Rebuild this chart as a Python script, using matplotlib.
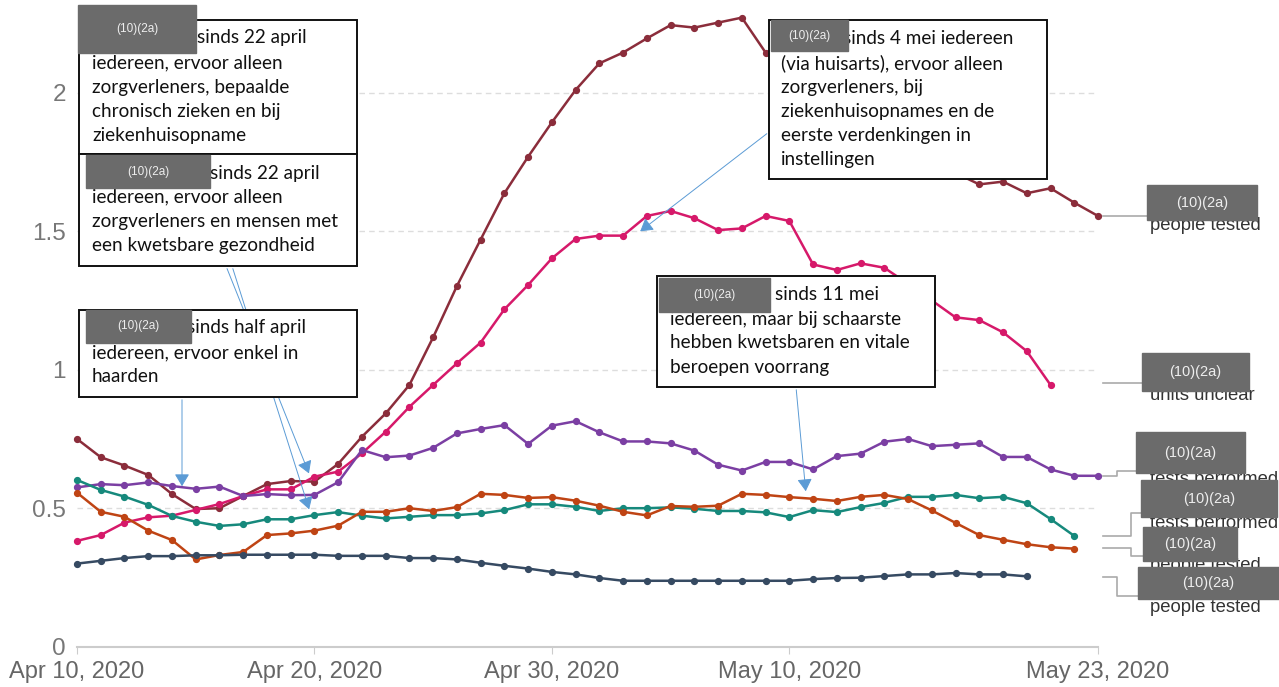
import numpy as np
import pandas as pd
import matplotlib
matplotlib.use("Agg")
import matplotlib.pyplot as plt
from matplotlib.patches import Rectangle, FancyArrowPatch

# daily values, Apr 10 .. May 23 2020
dates = pd.date_range("2020-04-10", "2020-05-23", freq="D")
nan = np.nan

maroon = [0.75, 0.684, 0.654, 0.62, 0.551, 0.497, 0.50, 0.544, 0.587, 0.598, 0.596,
          0.66, 0.758, 0.842, 0.945, 1.117, 1.302, 1.47, 1.637, 1.769, 1.893,
          2.01, 2.106, 2.145, 2.196, 2.244, 2.235, 2.253, 2.271, 2.145, 2.12,
          2.06, 2.0, 1.94, 1.88, 1.82, 1.77, 1.71, 1.669, 1.679, 1.637,
          1.655, 1.603, 1.555]
magenta = [0.382, 0.403, 0.448, 0.467, 0.473, 0.494, 0.515, 0.544, 0.568, 0.568, 0.614,
           0.632, 0.698, 0.776, 0.866, 0.945, 1.023, 1.098, 1.218, 1.306, 1.402,
           1.472, 1.484, 1.484, 1.555, 1.573, 1.547, 1.504, 1.51, 1.555, 1.537,
           1.38, 1.36, 1.384, 1.368, 1.31, 1.25, 1.189, 1.179, 1.135, 1.067,
           0.945, nan, nan]
purple = [0.575, 0.587, 0.583, 0.593, 0.58, 0.57, 0.578, 0.544, 0.551, 0.547, 0.548,
          0.594, 0.71, 0.684, 0.69, 0.718, 0.77, 0.786, 0.8, 0.732, 0.798,
          0.814, 0.774, 0.741, 0.741, 0.734, 0.708, 0.657, 0.636, 0.667, 0.667,
          0.64, 0.688, 0.697, 0.74, 0.75, 0.724, 0.729, 0.734, 0.685, 0.685,
          0.64, 0.617, 0.617]
teal = [0.602, 0.566, 0.542, 0.512, 0.472, 0.451, 0.436, 0.442, 0.46, 0.46, 0.475,
        0.486, 0.473, 0.463, 0.469, 0.475, 0.475, 0.481, 0.493, 0.514, 0.514,
        0.505, 0.49, 0.5, 0.5, 0.503, 0.498, 0.49, 0.49, 0.485, 0.468,
        0.493, 0.486, 0.504, 0.519, 0.541, 0.541, 0.548, 0.536, 0.541, 0.518,
        0.461, 0.40, nan]
orange = [0.556, 0.487, 0.469, 0.419, 0.385, 0.315, 0.331, 0.342, 0.403, 0.409, 0.419,
          0.437, 0.487, 0.487, 0.5, 0.49, 0.504, 0.552, 0.548, 0.537, 0.54,
          0.527, 0.509, 0.487, 0.474, 0.508, 0.505, 0.509, 0.552, 0.548, 0.54,
          0.534, 0.526, 0.541, 0.548, 0.533, 0.492, 0.447, 0.403, 0.386, 0.37,
          0.359, 0.354, nan]
navy = [0.30, 0.31, 0.32, 0.327, 0.327, 0.33, 0.33, 0.332, 0.332, 0.332, 0.332,
        0.328, 0.328, 0.328, 0.32, 0.32, 0.315, 0.303, 0.292, 0.282, 0.27,
        0.261, 0.248, 0.238, 0.238, 0.238, 0.238, 0.238, 0.238, 0.238, 0.238,
        0.244, 0.248, 0.249, 0.255, 0.261, 0.261, 0.266, 0.261, 0.261, 0.254,
        nan, nan, nan]

series = [maroon, magenta, purple, teal, orange, navy]
colors = ["#8b2d3b", "#d6196a", "#7b3fa3", "#16897c", "#bf4414", "#364a62"]

tick_dates = pd.to_datetime(["2020-04-10", "2020-04-20", "2020-04-30", "2020-05-10", "2020-05-23"])
tick_labels = ["Apr 10, 2020", "Apr 20, 2020", "Apr 30, 2020", "May 10, 2020", "May 23, 2020"]

W, H = 1279, 687
fig = plt.figure(figsize=(W / 100, H / 100), dpi=100)
ax = fig.add_axes([77 / W, 40.3 / H, 1021 / W, 637.1 / H])

for vals, c in zip(series, colors):
    ax.plot(dates, vals, color=c, lw=1.8, marker="o", ms=4.2, clip_on=False)

ax.set_xlim(dates[0], dates[-1])
ax.set_ylim(0, 2.3)
ax.set_yticks([0, 0.5, 1, 1.5, 2])
ax.set_yticklabels(["0", "0.5", "1", "1.5", "2"])
ax.set_xticks(tick_dates)
ax.set_xticklabels(tick_labels)
ax.grid(axis="y", ls=(0, (4, 3)), color="#dddddd", lw=1)
ax.set_axisbelow(True)
for s in ["top", "right", "left"]:
    ax.spines[s].set_visible(False)
ax.spines["bottom"].set_color("#cccccc")
ax.spines["bottom"].set_linewidth(1.5)
ax.tick_params(axis="x", length=5, color="#cccccc", labelcolor="#666666", labelsize=17, pad=5)
ax.tick_params(axis="y", length=0, labelcolor="#777777", labelsize=17.5, pad=8)
for t in ax.get_xticklabels() + ax.get_yticklabels():
    t.set_fontfamily("Liberation Sans")

# overlay in pixel coordinates for the annotation boxes
ov = fig.add_axes([0, 0, 1, 1], zorder=5)
ov.set_xlim(0, W)
ov.set_ylim(H, 0)
ov.axis("off")

RED = "#6b6b6b"
boxfont = dict(family="Lato", size=13.6, color="#111111", va="center", ha="left")


def redact(x0, y0, x1, y1, size=8.5):
    ov.add_patch(Rectangle((x0, y0), x1 - x0, y1 - y0, color=RED, zorder=4))
    ov.text((x0 + x1) / 2, (y0 + y1) / 2, "(10)(2a)", ha="center", va="center",
            color="#eeeeee", fontsize=size, family="Liberation Sans", zorder=5)


def note(x0, y0, x1, y1, first_x, lines, line_x, ys):
    ov.add_patch(Rectangle((x0, y0), x1 - x0, y1 - y0, facecolor="white",
                           edgecolor="#111111", lw=1.4, zorder=2))
    ov.text(first_x, ys[0], lines[0], zorder=3, **boxfont)
    for txt, y in zip(lines[1:], ys[1:]):
        ov.text(line_x, y, txt, zorder=3, **boxfont)


def arrow(p0, p1):
    ov.add_patch(FancyArrowPatch(p0, p1, arrowstyle="-|>,head_length=0.75,head_width=0.45",
                                 mutation_scale=10, color="#5b9bd5", lw=0.7, zorder=1))


arrow((226, 266), (310, 476))
arrow((232, 266), (310, 512))
arrow((182, 397), (182, 489))
arrow((769, 132), (638, 233))
arrow((796, 387), (806, 494))

note(79, 20, 357, 154, 197,
     ["sinds 22 april", "iedereen, ervoor alleen", "zorgverleners, bepaalde",
      "chronisch zieken en bij", "ziekenhuisopname"], 92, [38, 63, 87, 111, 135])
redact(78, 5, 196, 53)
note(79, 154, 357, 266, 210,
     ["sinds 22 april", "iedereen, ervoor alleen", "zorgverleners en mensen met",
      "een kwetsbare gezondheid"], 92, [173, 197, 222, 246])
redact(86, 155, 210, 188)
note(79, 310, 357, 397, 187,
     ["sinds half april", "iedereen, ervoor enkel in", "haarden"], 92, [328, 353, 377])
redact(86, 310, 191, 343)
note(769, 20, 1047, 179, 843,
     ["sinds 4 mei iedereen", "(via huisarts), ervoor alleen", "zorgverleners, bij",
      "ziekenhuisopnames en de", "eerste verdenkingen in", "instellingen"],
     781, [38, 63, 87, 111, 135, 159])
redact(771, 20, 848, 51)
note(657, 276, 935, 387, 775,
     ["sinds 11 mei", "iedereen, maar bij schaarste", "hebben kwetsbaren en vitale",
      "beroepen voorrang"], 670, [295, 319, 343, 368])
redact(659, 278, 770, 312)

# right-hand series labels
labels = ["people tested", "units unclear", "tests performed", "tests performed",
          "people tested", "people tested"]
label_y = [226, 396, 480, 523, 566, 607]
boxes = [(1147, 185, 1257, 220), (1142, 353, 1249, 391), (1136, 432, 1245, 473),
         (1141, 480, 1277, 517), (1143, 527, 1237, 561), (1138, 567, 1279, 599)]
conns = [[(1103, 216), (1147, 216)],
         [(1103, 383), (1142, 383)],
         [(1103, 476), (1117, 476), (1117, 471), (1136, 471)],
         [(1103, 536), (1131, 536), (1131, 513), (1141, 513)],
         [(1103, 548), (1131, 548), (1131, 556), (1143, 556)],
         [(1103, 577), (1117, 577), (1117, 596), (1138, 596)]]
for pts in conns:
    xs, ys = zip(*pts)
    ov.plot(xs, ys, color="#aaaaaa", lw=1.2, zorder=1)
for txt, y in zip(labels, label_y):
    ov.text(1150, y, txt, ha="left", va="center", fontsize=13.3,
            family="Liberation Sans", color="#333333", zorder=2)
for (x0, y0, x1, y1) in boxes:
    redact(x0, y0, x1, y1, size=10.5)

fig.savefig("out.png", dpi=100)
